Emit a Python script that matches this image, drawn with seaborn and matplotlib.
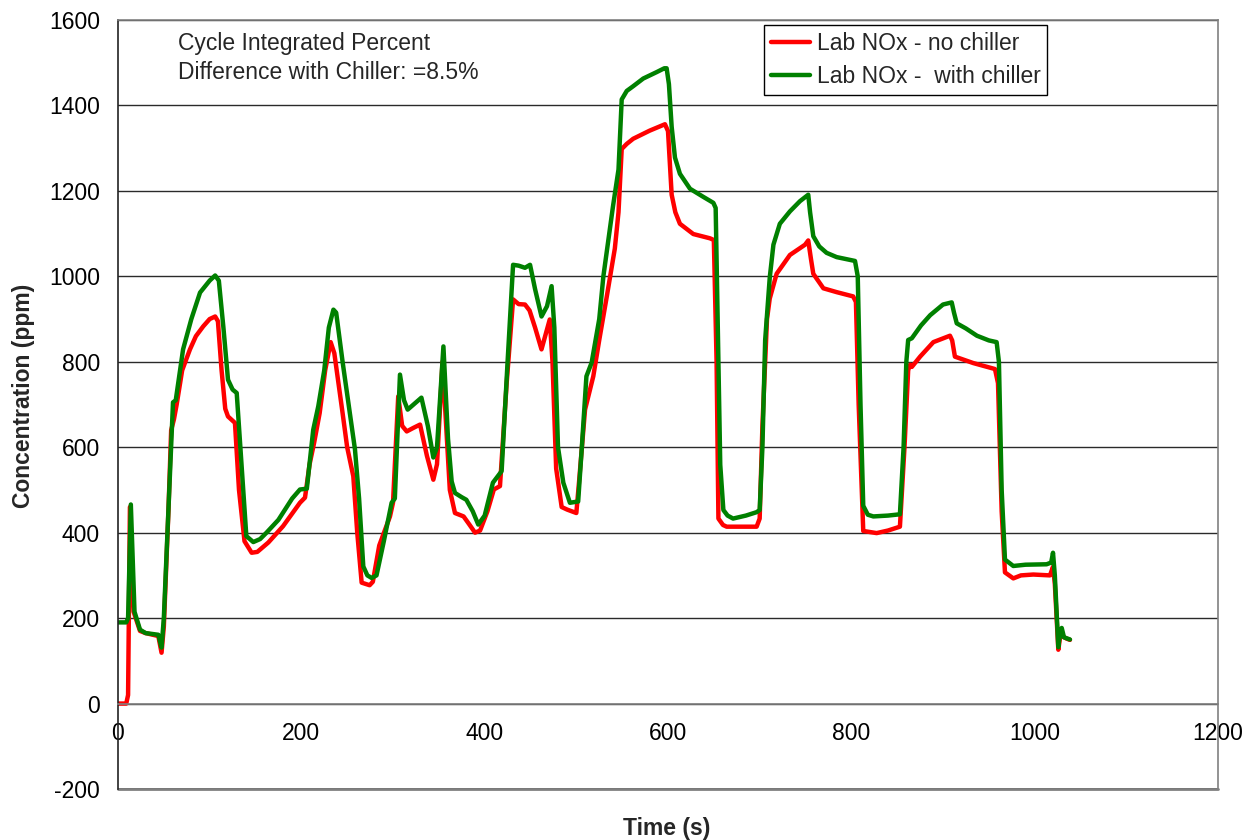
import matplotlib
matplotlib.use("Agg")
import matplotlib.pyplot as plt
import seaborn as sns
import pandas as pd

# ---- data ----
time_no_chiller = [0, 9, 11, 13, 17, 24, 30, 44, 47.5, 50, 55, 58, 61, 64, 70, 78.5, 85, 93, 100, 106,
                   109, 113, 117, 120, 127.6, 132, 138, 145.8, 152, 164, 180, 198.5, 204, 209, 214, 220,
                   226, 232, 236, 245, 250, 256.7, 261, 265.8, 274.5, 278, 285, 296.7, 300, 305.7, 310,
                   315, 322, 329.5, 337, 344, 348, 354, 358, 362, 367.6, 377, 383, 389.5, 395, 403, 410,
                   416.7, 424, 431, 437, 444, 449, 455, 462, 466, 471, 474, 478, 484, 490, 500, 503,
                   509.5, 518.5, 525, 533, 542, 546, 549.5, 555, 562, 580, 596.7, 600, 604, 608, 613,
                   627.6, 645.8, 650, 653, 655, 660, 664, 680, 696.7, 700, 703, 708, 711, 718.5, 733,
                   749.5, 753, 756, 758.5, 769.5, 784, 802, 805, 808, 813, 827.6, 840, 853, 858, 862,
                   864, 866, 875, 889.5, 907.6, 910, 913, 933, 945, 956.7, 960, 964, 967.6, 976.7, 985,
                   998.5, 1016.7, 1020, 1022, 1025.8, 1028, 1034.9, 1038.5]
nox_no_chiller = [0, 0, 20, 460, 215, 170, 165, 158, 119, 180, 450, 640, 665, 700, 780, 829, 860, 883, 900, 906,
                  895, 780, 690, 672, 657, 500, 380, 353, 355, 377, 415, 470, 482, 560, 611, 680,
                  780, 846, 820, 680, 600, 532, 400, 283, 277, 285, 370, 438, 470, 719, 650,
                  637, 645, 653, 580, 524, 560, 800, 650, 500, 446, 438, 420, 400, 405, 450, 501,
                  509, 750, 946, 935, 934, 920, 880, 829, 860, 899, 800, 550, 460, 454, 446, 520,
                  688, 766, 851, 950, 1065, 1150, 1298, 1310, 1322, 1341, 1356, 1340, 1191, 1150, 1123,
                  1099, 1089, 1085, 800, 433, 418, 414, 414, 414, 433, 650, 900, 948, 1006, 1050,
                  1074, 1084, 1040, 1006, 972, 963, 953, 940, 700, 404, 399, 405, 414, 600, 780,
                  793, 788, 812, 846, 861, 850, 812, 797, 790, 783, 750, 450, 307, 293, 300,
                  302, 300, 320, 280, 126, 160, 152, 149]

time_with_chiller = [0, 9, 11, 14, 18, 24, 30, 44, 47.5, 50, 55, 60, 63, 71, 80, 89.5, 100, 106, 110, 115,
                     120, 125, 129.5, 135, 140, 147.6, 155, 162, 175, 190, 198.5, 206, 213, 218.5, 225,
                     230, 235, 238, 245, 258.5, 263, 267.6, 272, 276.7, 282, 290, 298.5, 302, 307.6, 312,
                     316, 325, 331, 338, 344, 348, 355, 360, 364, 367.6, 375, 380, 387, 393, 400, 409,
                     418.5, 425, 431, 437, 444, 449.5, 455, 462, 468, 473, 476, 480, 485.8, 493, 502,
                     506, 511, 516.7, 525, 529.5, 540, 546, 549.5, 555, 562, 573, 587.6, 596, 598.5, 601,
                     604, 607.6, 613, 624, 638.5, 649.5, 652, 655, 657, 660.4, 665, 671, 685, 696.7, 700,
                     703, 706, 711, 715, 722, 733, 744, 753, 755, 758.5, 765, 773, 784, 795, 804, 807,
                     810, 813, 818, 824, 840, 853, 857, 860, 862, 866, 876, 886, 900, 909.5, 912, 915,
                     925, 937, 950, 958.5, 961, 964, 967.6, 976.7, 990, 1013, 1018, 1020, 1022, 1025.8,
                     1028, 1029.5, 1032, 1038.5]
nox_with_chiller = [190, 190, 200, 466, 215, 173, 165, 161, 131, 200, 450, 705, 710, 829, 900, 962, 990, 1002, 990, 880,
                    758, 735, 727, 550, 392, 378, 385, 400, 430, 480, 501, 503, 641, 696, 780,
                    880, 922, 915, 800, 595, 480, 321, 300, 294, 300, 380, 470, 480, 770, 710,
                    688, 705, 716, 650, 576, 600, 836, 620, 520, 493, 483, 477, 450, 419, 440, 517,
                    544, 800, 1027, 1025, 1020, 1027, 970, 906, 930, 977, 880, 600, 517, 470, 473,
                    600, 766, 798, 900, 1000, 1164, 1250, 1414, 1434, 1445, 1463, 1478, 1487, 1487, 1450,
                    1350, 1278, 1240, 1205, 1186, 1172, 1160, 800, 559, 453, 440, 433, 440, 448, 453,
                    600, 851, 997, 1074, 1123, 1152, 1176, 1191, 1150, 1094, 1070, 1055, 1045, 1040, 1036, 1000,
                    700, 463, 442, 438, 440, 443, 600, 800, 851, 855, 885, 909, 934, 939, 915, 890,
                    878, 861, 850, 846, 800, 500, 337, 322, 325, 326, 330, 353, 300, 132,
                    170, 177, 155, 150]

series_names = ["Lab NOx - no chiller", "Lab NOx -  with chiller"]
series_colors = ["#ff0000", "#008000"]
x_ticks = [0, 200, 400, 600, 800, 1000, 1200]
y_ticks = [-200, 0, 200, 400, 600, 800, 1000, 1200, 1400, 1600]
note_text = "Cycle Integrated Percent\nDifference with Chiller: =8.5%"
x_label = "Time (s)"
y_label = "Concentration (ppm)"

df = pd.concat([
    pd.DataFrame({"t": time_no_chiller, "v": nox_no_chiller, "s": series_names[0]}),
    pd.DataFrame({"t": time_with_chiller, "v": nox_with_chiller, "s": series_names[1]}),
], ignore_index=True)

sns.set_theme(style="white")
plt.rcParams["font.family"] = ["Liberation Sans", "DejaVu Sans"]
plt.rcParams["axes.unicode_minus"] = False

FS = 16.5
fig = plt.figure(figsize=(12.47, 8.4), dpi=100)
ax = fig.add_axes([118 / 1247, 1 - 789 / 840, 1100 / 1247, 769 / 840])

sns.lineplot(data=df, x="t", y="v", hue="s", hue_order=series_names,
             palette=dict(zip(series_names, series_colors)), estimator=None,
             sort=False, linewidth=3.2, ax=ax)

ax.set_xlim(0, 1200)
ax.set_ylim(-200, 1600)
ax.set_xticks(x_ticks)
ax.set_yticks(y_ticks)
ax.tick_params(axis="both", labelsize=FS, colors="black", direction="out",
               length=5, width=1, pad=8)
ax.yaxis.grid(True, color="#2a2a2a", linewidth=1)
ax.xaxis.grid(False)

ax.spines["bottom"].set_position(("data", 0))
ax.spines["bottom"].set_color("#808080")
ax.spines["bottom"].set_linewidth(1.2)
for side in ["top", "right"]:
    ax.spines[side].set_visible(True)
    ax.spines[side].set_color("#808080")
    ax.spines[side].set_linewidth(1.2)
ax.spines["left"].set_color("#222222")
ax.spines["left"].set_linewidth(1.2)
ax.axhline(-200, color="#808080", linewidth=2.0, clip_on=False, zorder=0)

ax.set_xlabel("")
ax.set_ylabel("")
fig.text(667 / 1247, 1 - 828 / 840, x_label, fontsize=FS, fontweight="bold",
         ha="center", va="center")
fig.text(24 / 1247, 1 - 396 / 840, y_label, fontsize=FS, fontweight="bold",
         ha="center", va="center", rotation=90)

ax.text(0.0545, 0.984, note_text, transform=ax.transAxes, fontsize=FS, va="top", ha="left",
        linespacing=1.3)

leg = ax.legend(loc="upper center", bbox_to_anchor=(0.716, 0.9935), borderaxespad=0,
                fontsize=FS, frameon=True, fancybox=False, edgecolor="black",
                handlelength=1.7, handletextpad=0.3, borderpad=0.3, labelspacing=0.45)
leg.get_frame().set_linewidth(1.0)
leg.get_frame().set_alpha(1)

fig.savefig("out.png", dpi=100, facecolor="white")
